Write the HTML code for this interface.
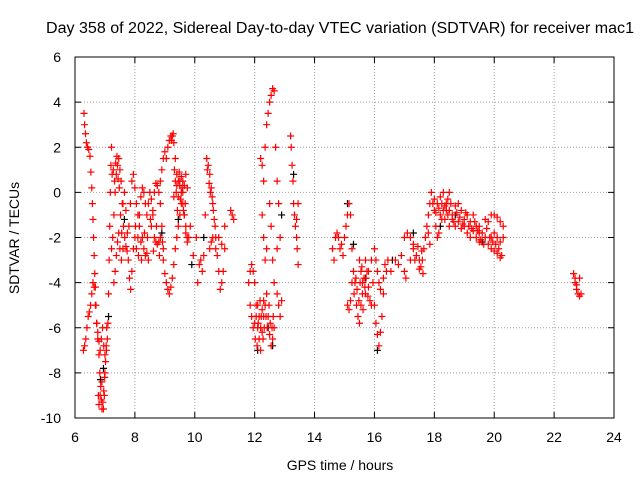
<!DOCTYPE html>
<html><head><meta charset="utf-8"><style>
html,body{margin:0;padding:0;background:#fff;}
svg{display:block;font-family:"Liberation Sans",sans-serif;}
</style></head><body>
<svg id="chart" width="640" height="480" viewBox="0 0 640 480">
<text x="340" y="33" font-size="15.5" text-anchor="middle" textLength="588" lengthAdjust="spacingAndGlyphs">Day 358 of 2022, Sidereal Day-to-day VTEC variation (SDTVAR) for receiver mac1</text>
<text transform="translate(19,238) rotate(-90)" font-size="14" text-anchor="middle">SDTVAR / TECUs</text>
<text x="340" y="470" font-size="14" text-anchor="middle">GPS time / hours</text>
<g id="grid"></g>
<g id="ticks"></g>
<g id="black"></g>
<g id="red"></g>
<rect x="75" y="57" width="539" height="361" fill="none" stroke="#000" stroke-width="1"/>
</svg>
<script>
const xTicks=[6,8,10,12,14,16,18,20,22,24];
const yTicks=[-10,-8,-6,-4,-2,0,2,4,6];
const redPts=[
[6.30,3.5],[6.32,3.0],[6.35,2.6],[6.38,2.2],[6.42,2.0],[6.46,1.9],[6.50,1.6],[6.53,0.9],[6.56,0.2],[6.58,-0.5],[6.60,-1.2],[6.62,-2.0],[6.64,-2.8],[6.66,-3.6],[6.68,-4.2],[6.70,-5.0],[6.73,-5.8],[6.76,-6.5],[6.80,-7.2],[6.83,-8.0],[6.86,-8.6],[6.88,-9.2],[6.90,-9.6],[6.93,-9.3],[6.96,-8.8],[6.99,-8.2],[7.02,-7.5],[7.05,-7.0],[7.08,-6.5],[7.10,-5.8],[7.12,-4.5],[7.14,-3.0],[7.16,-1.5],[7.18,0.0],[7.20,1.2],[7.22,2.0],
[6.28,-7.0],[6.32,-6.8],[6.36,-6.5],[6.40,-6.0],[6.44,-5.5],[6.48,-5.3],[6.52,-5.0],[6.56,-4.5],[6.60,-4.0],[6.64,-4.2],[6.68,-5.0],[6.72,-5.8],[6.76,-6.2],[6.80,-6.6],[6.84,-7.0],[6.88,-6.5],[6.92,-6.0],[6.96,-6.8],[7.00,-7.2],
[6.78,-9.0],[6.80,-9.4],[6.84,-9.0],[6.90,-8.4],[6.95,-9.6],[6.98,-9.0],[7.00,-8.0],[7.04,-6.8],[7.06,-6.0],
[7.22,-2.5],[7.26,-2.0],[7.30,-1.0],[7.34,0.0],[7.38,0.8],[7.42,1.2],[7.46,1.5],[7.50,1.0],[7.54,0.5],[7.58,-0.5],[7.62,-1.5],[7.66,-2.0],[7.70,-2.4],[7.74,-2.6],[7.78,-3.0],[7.82,-3.8],[7.86,-4.3],[7.90,-3.5],[7.95,-2.5],[8.0,-2.0],
[7.30,-4.0],[7.34,-3.5],[7.38,-2.8],[7.42,-2.2],[7.46,-1.8],[7.50,-2.5],[7.55,-3.0],
[7.24,0.8],[7.28,1.0],[7.32,0.5],[7.36,1.3],[7.40,1.6],[7.44,0.6],[7.48,0.2],[7.52,-1.0],[7.56,-1.8],[7.60,-2.5],
[7.60,-0.5],[7.65,0.0],[7.70,-0.8],[7.75,-1.8],[7.80,-1.5],[7.85,-0.5],[7.90,0.5],[7.95,0.8],[8.0,0.2],[8.05,-0.5],[8.10,-1.0],[8.15,-1.5],[8.20,-2.2],[8.25,-2.0],[8.30,-2.5],[8.35,-2.8],[8.40,-2.7],[8.45,-3.0],
[8.05,-2.5],[8.10,-2.0],[8.15,-1.0],[8.20,-0.2],[8.25,0.2],[8.30,0.0],[8.35,-0.5],[8.40,-1.0],[8.45,-0.5],[8.50,0.0],[8.55,-0.3],[8.60,-1.0],[8.65,-2.0],[8.70,-2.2],[8.75,-2.3],[8.80,-2.2],[8.85,-2.0],[8.90,-1.5],[8.95,-2.5],
[8.02,-1.5],[8.12,-2.8],[8.22,-3.0],[8.32,-1.8],[8.42,-2.0],[8.52,-1.2],[8.62,-2.6],[8.72,-1.5],[8.82,-2.8],[8.92,-2.2],
[8.55,-1.5],[8.60,-0.8],[8.65,0.0],[8.70,0.4],[8.75,0.3],[8.80,0.0],[8.85,-0.5],
[8.85,0.5],[8.90,1.0],[8.95,1.5],[9.0,1.8],[9.05,1.5],[9.1,2.0],[9.15,2.3],[9.2,2.5],[9.25,2.5],[9.3,2.2],[9.35,1.5],[9.4,0.8],[9.45,0.5],[9.5,0.3],[9.55,0.0],[9.6,-0.5],[9.65,-1.0],[9.7,-1.5],[9.75,-2.0],
[8.95,-3.0],[9.0,-3.6],[9.05,-4.0],[9.1,-4.3],[9.15,-4.5],[9.2,-4.2],[9.25,-3.8],[9.3,-3.2],[9.35,-2.5],[9.4,-2.0],[9.45,-1.5],[9.5,-1.0],[9.55,-0.5],[9.6,0.0],[9.65,0.3],[9.7,0.8],[9.75,0.2],
[9.3,-0.2],[9.35,0.5],[9.4,0.3],[9.45,-0.2],[9.5,0.5],[9.55,0.7],[9.6,0.5],[9.65,-1.0],[9.7,-1.8],[9.75,-2.2],[9.8,-2.0],[9.85,-1.5],
[9.22,2.3],[9.28,2.6],[9.32,1.0],[9.38,0.0],[9.42,-0.8],[9.48,0.9],[9.52,-0.3],[9.58,0.2],[9.62,-0.8],[9.68,-0.5],
[9.95,-2.8],[10.05,-2.0],[10.15,-3.2],[10.1,-4.0],
[10.2,-3.0],[10.25,-3.5],[10.3,-2.8],[10.35,-1.0],[10.4,1.5],[10.45,1.2],[10.5,0.8],[10.55,0.2],[10.6,-0.5],[10.65,-1.2],[10.7,-2.0],[10.75,-2.8],[10.8,-3.5],[10.85,-4.3],[10.9,-4.0],[10.95,-3.5],[11.0,-2.5],
[10.5,-2.5],[10.55,-2.2],[10.6,-2.0],[10.7,-2.5],[10.8,-2.0],[10.9,-2.3],[11.0,-1.5],
[10.42,1.0],[10.48,0.4],[10.52,0.0],[10.58,-0.2],[10.62,-0.8],[10.68,-1.5],
[11.2,-0.8],[11.25,-1.0],[11.3,-1.2],
[11.8,-4.0],[11.85,-3.5],[11.9,-3.2],[11.95,-3.5],[12.0,-4.0],[12.05,-5.0],[12.1,-6.0],[12.15,-6.5],[12.2,-7.0],[12.25,-6.2],[12.3,-5.5],[12.35,-5.0],[12.4,-4.5],[12.45,-5.5],[12.5,-6.3],[12.55,-6.8],[12.6,-6.5],[12.65,-6.0],
[11.85,-5.0],[11.9,-5.5],[11.95,-6.0],[12.0,-5.8],[12.05,-5.5],[12.1,-5.0],[12.15,-5.5],[12.2,-6.0],[12.25,-5.2],[12.3,-4.8],
[12.02,-6.5],[12.08,-6.8],[12.12,-5.8],[12.18,-4.8],[12.22,-5.5],[12.28,-6.5],[12.32,-6.0],[12.38,-5.5],[12.42,-6.0],[12.48,-5.0],[12.52,-5.8],[12.58,-6.0],[12.62,-5.5],
[12.2,1.5],[12.25,1.2],[12.3,0.5],[12.35,2.0],[12.4,3.0],[12.45,3.5],[12.5,4.0],[12.55,4.3],[12.6,4.6],[12.65,4.5],[12.7,2.0],[12.75,0.5],[12.8,-0.5],[12.85,-2.0],
[12.25,-1.0],[12.3,-2.0],[12.35,-3.0],[12.4,-2.5],[12.5,-0.5],[12.55,-1.5],[12.6,-3.0],[12.65,-4.0],[12.75,-2.5],
[12.75,-4.5],[12.8,-5.0],[12.85,-5.5],[12.9,-4.8],
[13.2,2.5],[13.22,2.0],[13.25,1.2],[13.28,0.5],[13.3,-0.5],[13.33,-1.0],[13.36,-1.5],[13.4,-2.0],[13.42,-2.5],[13.45,-3.2],[13.4,-1.2],[13.45,-0.5],
[14.6,-2.5],[14.65,-3.0],[14.7,-2.0],[14.75,-1.8],[14.8,-2.0],[14.85,-2.5],[14.9,-2.3],[14.95,-2.8],[15.0,-2.0],[15.05,-1.5],[15.1,-1.0],[15.15,-0.5],[15.2,-1.0],[15.25,-2.5],
[15.1,-5.0],[15.15,-5.2],[15.2,-4.8],[15.25,-4.0],[15.3,-3.5],[15.35,-4.0],[15.4,-5.0],[15.45,-5.5],[15.5,-5.8],[15.55,-5.0],[15.6,-4.5],[15.65,-3.8],[15.7,-3.0],[15.75,-3.5],[15.8,-4.2],[15.85,-4.8],[15.9,-5.0],
[15.32,-4.5],[15.38,-3.8],[15.42,-4.3],[15.48,-4.8],[15.52,-4.0],[15.58,-3.3],[15.62,-5.2],[15.68,-4.2],[15.72,-3.8],[15.78,-4.6],
[15.5,-3.0],[15.55,-3.5],[15.6,-4.0],[15.7,-4.5],[15.8,-3.5],[15.9,-3.0],[15.95,-4.0],[16.0,-5.0],[16.05,-5.8],[16.1,-6.3],[16.15,-6.8],[16.2,-6.2],[16.25,-5.5],[16.3,-4.5],
[16.0,-2.5],[16.05,-3.0],[16.1,-3.5],[16.15,-4.0],[16.2,-4.3],[16.3,-3.8],[16.35,-3.2],[16.4,-3.5],
[16.45,-3.0],[16.55,-3.5],[16.7,-3.0],[16.8,-3.2],[16.9,-2.8],[17.0,-3.5],[17.05,-3.8],
[17.0,-2.0],[17.1,-1.8],[17.2,-2.0],[17.3,-2.3],[17.4,-2.8],[17.5,-3.0],[17.55,-3.3],[17.6,-3.0],[17.65,-2.5],[17.7,-2.0],[17.75,-1.5],[17.8,-1.8],[17.85,-2.3],
[17.2,-3.0],[17.3,-2.5],[17.35,-3.0],[17.45,-2.4],[17.5,-3.4],[17.58,-2.6],[17.62,-3.6],
[17.8,-1.0],[17.85,-0.5],[17.9,0.0],[17.95,-0.5],[18.0,-0.8],[18.05,-1.5],[18.1,-2.0],[18.15,-1.8],[18.2,-1.0],[18.25,-0.5],[18.3,-0.8],[18.35,-1.2],[18.4,-0.8],[18.45,-0.3],[18.5,0.0],
[18.0,-0.3],[18.1,-0.5],[18.2,-0.2],[18.3,0.0],[18.4,-0.5],[18.5,-0.8],[18.6,-1.0],[18.7,-0.6],[18.8,-0.5],[18.9,-0.8],[19.0,-1.2],[19.1,-1.0],[19.2,-1.3],[19.3,-1.0],[19.4,-1.5],[19.5,-1.8],
[18.05,-0.9],[18.15,-0.7],[18.25,-1.2],[18.35,-0.6],[18.45,-1.0],[18.55,-0.5],[18.65,-1.3],[18.75,-0.9],[18.85,-1.1],[18.95,-1.4],[19.05,-0.9],[19.15,-1.5],[19.25,-1.6],[19.35,-1.3],[19.45,-1.7],
[18.5,-1.5],[18.6,-1.2],[18.7,-1.5],[18.8,-1.3],[18.9,-1.6],[19.0,-1.5],[19.1,-1.8],[19.2,-2.0],[19.3,-1.7],[19.4,-2.0],[19.5,-2.2],
[19.5,-1.5],[19.6,-1.8],[19.7,-2.0],[19.8,-2.3],[19.9,-2.5],[20.0,-2.6],[20.1,-2.7],[20.2,-2.9],[20.25,-2.8],
[19.55,-2.1],[19.65,-2.3],[19.75,-1.6],[19.85,-2.0],[19.95,-2.2],[20.05,-2.3],[20.15,-2.5],
[19.7,-1.2],[19.8,-1.3],[19.9,-1.0],[20.0,-1.0],[20.1,-1.1],[20.2,-1.3],[20.3,-1.5],
[19.9,-2.0],[20.0,-1.8],[20.1,-2.0],[20.2,-2.2],[20.3,-2.0],
[22.65,-3.6],[22.7,-4.0],[22.75,-4.3],[22.8,-4.5],[22.85,-4.6],[22.9,-4.5],[22.7,-3.8],[22.75,-4.1],[22.85,-3.8]
];
const blackPts=[
[6.85,-8.3],[6.95,-7.8],[7.12,-5.5],[7.65,-1.2],[8.9,-1.8],[9.45,-1.2],[9.9,-3.2],[10.3,-2.0],[12.1,-7.0],[12.45,-6.0],[12.6,-6.8],[12.9,-1.0],[13.3,0.8],[15.1,-0.5],[15.3,-2.3],[15.7,-3.8],[16.1,-7.0],[16.6,-3.0],[17.3,-1.8],[18.2,-1.5],[18.7,-1.0],[19.6,-2.2]
];
const NS="http://www.w3.org/2000/svg";
const X0=75,X1=614,Y0=418,Y1=57;
function sx(t){return X0+(t-6)/(24-6)*(X1-X0);}
function sy(v){return Y0-(v+10)/(6+10)*(Y0-Y1);}
const grid=document.getElementById('grid'),ticks=document.getElementById('ticks');
function mk(tag,attrs,parent){const e=document.createElementNS(NS,tag);for(const k in attrs)e.setAttribute(k,attrs[k]);parent.appendChild(e);return e;}
xTicks.forEach(t=>{const x=sx(t);
 if(t>6&&t<24){const g=mk('line',{x1:x,x2:x,y1:Y1,y2:Y0,stroke:'#a0a0a0','stroke-dasharray':'1,2'},grid);
 
 }
 const l=mk('text',{x:x,y:Y0+24,'font-size':14,'text-anchor':'middle'},ticks);l.textContent=t;
 
 
 mk('line',{x1:x,x2:x,y1:Y0,y2:Y0-6,stroke:'#000'},ticks);mk('line',{x1:x,x2:x,y1:Y1,y2:Y1+6,stroke:'#000'},ticks);
});
yTicks.forEach(v=>{const y=sy(v);
 if(v>-10&&v<6){const g=mk('line',{x1:X0,x2:X1,y1:y,y2:y,stroke:'#a0a0a0','stroke-dasharray':'1,2'},grid);
 
 }
 const l=mk('text',{x:X0-14,y:y+5,'font-size':14,'text-anchor':'end'},ticks);l.textContent=v;
 
 
 mk('line',{x1:X0,x2:X0+6,y1:y,y2:y,stroke:'#000'},ticks);mk('line',{x1:X1,x2:X1-6,y1:y,y2:y,stroke:'#000'},ticks);
});
function plus(p,parent,color,name){const x=sx(p[0]),y=sy(p[1]);
 const e=mk('path',{d:`M${x-3.5},${y}H${x+3.5}M${x},${y-3.5}V${y+3.5}`,stroke:color,'stroke-width':1.2,fill:'none'},parent);
 
 }
blackPts.forEach(p=>plus(p,document.getElementById('black'),'#000','black-point'));
redPts.forEach(p=>plus(p,document.getElementById('red'),'#ff0000','red-point'));
</script>
</body></html>
